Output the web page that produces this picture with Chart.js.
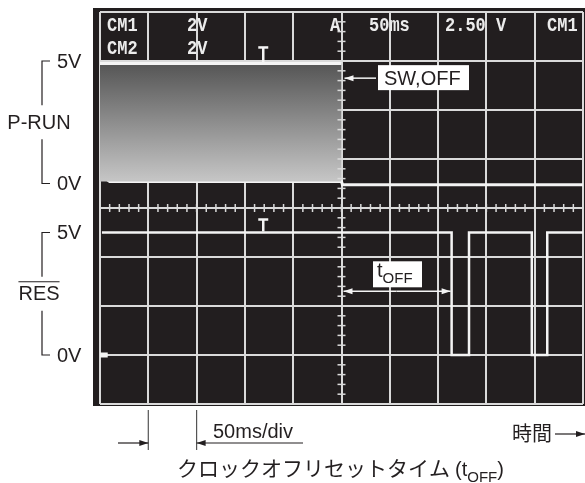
<!DOCTYPE html>
<html><head><meta charset="utf-8">
<script src="https://cdn.jsdelivr.net/npm/chart.js@4/dist/chart.umd.min.js"></script>
<style>html,body{margin:0;padding:0;background:#fff}canvas{display:block}</style>
</head><body>
<canvas id="scope" width="585" height="483"></canvas>
<script>
// Time base: 50 ms per division, 10 divisions across
const timeDivMs = 50;
const timeDivs = 10;
// Vertical: 2 V per division, 8 divisions
const voltsPerDiv = 2;
const voltDivs = 8;

// Channel ground positions, in divisions above the bottom edge
const ch1GroundDiv = 4.5;
const ch2GroundDiv = 1;

// P-RUN (CM1)
const pRunHighTime = [0, 250];
const pRunHighVolts = [4.9, 4.9];
const pRunLowTime = [0, 6, 10, 250, 251, 500];
const pRunLowVolts = [0.2, 0.2, 0.08, 0.08, -0.05, -0.05];

// RES (CM2)
const resTime = [2, 364, 364, 382, 382, 447, 447, 463, 463, 500];
const resVolts = [5, 5, 0, 0, 5, 5, 0, 0, 5, 5];
const resStartTime = [0, 8];
const resStartVolts = [0, 0];

const triggerTime = 169;
const switchOffTime = 250;
const resetTime = 364;
const levelLabels = ['5V', '0V'];
const levelVolts = [5, 0];

const ch1Base = ch1GroundDiv * voltsPerDiv;
const ch2Base = ch2GroundDiv * voltsPerDiv;
const toPoints = (times, volts, base) => times.map((t, i) => ({ x: t, y: volts[i] + base }));

const trace = '#f4f4f4';
const gridColor = '#dadada';
const ink = '#231f20';
const sans = '"Liberation Sans", Arial, sans-serif';
const mono = '"Liberation Mono", "DejaVu Sans Mono", monospace';
const cjk = '"Noto Sans CJK JP", sans-serif';

function arrow(ctx, x1, y1, x2, y2, len, half) {
  ctx.beginPath(); ctx.moveTo(x1, y1); ctx.lineTo(x2, y2); ctx.stroke();
  const a = Math.atan2(y2 - y1, x2 - x1);
  ctx.beginPath();
  ctx.moveTo(x2, y2);
  ctx.lineTo(x2 - len * Math.cos(a) + half * Math.sin(a), y2 - len * Math.sin(a) - half * Math.cos(a));
  ctx.lineTo(x2 - len * Math.cos(a) - half * Math.sin(a), y2 - len * Math.sin(a) + half * Math.cos(a));
  ctx.closePath(); ctx.fill();
}

// Text with a subscript part, left aligned at x
function subText(ctx, x, y, main, sub, after, size, subSize, font) {
  ctx.textAlign = 'left';
  ctx.font = size + 'px ' + font;
  ctx.fillText(main, x, y);
  let cx = x + ctx.measureText(main).width;
  ctx.font = subSize + 'px ' + font;
  ctx.fillText(sub, cx, y + size * 0.28);
  cx += ctx.measureText(sub).width;
  if (after) { ctx.font = size + 'px ' + font; ctx.fillText(after, cx, y); cx += ctx.measureText(after).width; }
  return cx;
}

// Tall condensed readout text of the scope screen
function readout(ctx, text, x, y) {
  ctx.save();
  ctx.translate(x, y);
  ctx.scale(1, 1.22);
  ctx.fillText(text, 0, 0);
  ctx.restore();
}

const backdrop = {
  id: 'backdrop',
  beforeDraw(chart) {
    const ctx = chart.ctx;
    ctx.save();
    ctx.fillStyle = '#ffffff';
    ctx.fillRect(0, 0, chart.width, chart.height);
    ctx.fillStyle = '#221e1f';
    ctx.fillRect(93, 8, chart.width - 93, 398);
    ctx.restore();
  }
};

const overlay = {
  id: 'overlay',
  afterDraw(chart) {
    const ctx = chart.ctx, xs = chart.scales.x, ys = chart.scales.y;
    const area = chart.chartArea;
    ctx.save();

    // Sub-division marks on the centre axes
    ctx.strokeStyle = gridColor; ctx.lineWidth = 1.5;
    const xc = xs.getPixelForValue(switchOffTime);
    const yc = ys.getPixelForValue(voltDivs * voltsPerDiv / 2);
    for (let v = 0; v <= voltDivs * voltsPerDiv + 1e-6; v += voltsPerDiv / 5) {
      const py = ys.getPixelForValue(v);
      ctx.beginPath(); ctx.moveTo(xc - 4, py); ctx.lineTo(xc + 4, py); ctx.stroke();
    }
    for (let t = 0; t <= timeDivs * timeDivMs + 1e-6; t += timeDivMs / 5) {
      const px = xs.getPixelForValue(t);
      ctx.beginPath(); ctx.moveTo(px, yc - 4); ctx.lineTo(px, yc + 4); ctx.stroke();
    }

    // Trigger markers
    ctx.strokeStyle = trace; ctx.lineWidth = 2.5;
    const tx = xs.getPixelForValue(triggerTime);
    [[ch1Base + pRunHighVolts[0], 16], [ch2Base + resVolts[0], 13]].forEach(([v, h]) => {
      const py = ys.getPixelForValue(v);
      ctx.beginPath(); ctx.moveTo(tx - 5, py - h); ctx.lineTo(tx + 5, py - h); ctx.stroke();
      ctx.beginPath(); ctx.moveTo(tx, py - h); ctx.lineTo(tx, py - 1); ctx.stroke();
    });

    // Scope readout
    ctx.fillStyle = '#ececec';
    ctx.font = 'bold 17px ' + mono;
    ctx.textAlign = 'left'; ctx.textBaseline = 'alphabetic';
    readout(ctx, 'CM1', 107, 31);
    readout(ctx, '2V', 187, 31);
    readout(ctx, 'CM2', 107, 54);
    readout(ctx, '2V', 187, 54);
    readout(ctx, 'A', 330, 31);
    readout(ctx, '50ms', 369, 31);
    readout(ctx, '2.50 V', 445, 31);
    readout(ctx, 'CM1', 547, 31);

    // SW,OFF callout
    const swY = ys.getPixelForValue(ch1Base + 4.3);
    ctx.font = '20px ' + sans;
    ctx.fillStyle = '#ffffff';
    ctx.fillRect(378, swY - 13, 91, 25);
    ctx.fillStyle = ink; ctx.textBaseline = 'middle';
    ctx.fillText('SW,OFF', 384, swY + 1);
    ctx.fillStyle = trace; ctx.strokeStyle = trace; ctx.lineWidth = 1.5;
    arrow(ctx, 376, swY, xc + 3, swY, 9, 3);

    // tOFF callout
    const tY = ys.getPixelForValue(ch2Base + 2.6);
    const rx = xs.getPixelForValue(resetTime);
    ctx.fillStyle = '#ffffff';
    ctx.fillRect(373, tY - 30, 49, 26);
    ctx.fillStyle = ink; ctx.textBaseline = 'alphabetic';
    subText(ctx, 377, tY - 14, 't', 'OFF', '', 20, 15, sans);
    ctx.fillStyle = trace; ctx.strokeStyle = trace; ctx.lineWidth = 1.5;
    const mid = (xc + rx) / 2;
    arrow(ctx, mid, tY, xc + 2, tY, 9, 3);
    arrow(ctx, mid, tY, rx - 1, tY, 9, 3);

    // Channel level labels with brackets
    ctx.fillStyle = ink; ctx.strokeStyle = ink; ctx.lineWidth = 1.2;
    ctx.font = '20px ' + sans; ctx.textBaseline = 'middle';
    [[ch1Base, 'P-RUN', false], [ch2Base, 'RES', true]].forEach(([base, name, bar]) => {
      const yTop = ys.getPixelForValue(base + levelVolts[0]);
      const yBot = ys.getPixelForValue(base + levelVolts[1]);
      ctx.textAlign = 'left';
      ctx.fillText(levelLabels[0], 57, yTop + 1);
      ctx.fillText(levelLabels[1], 57, yBot + 1);
      const ym = (yTop + yBot) / 2;
      ctx.textAlign = 'center';
      ctx.fillText(name, 39, ym + 1);
      if (bar) {
        const w = ctx.measureText(name).width;
        ctx.beginPath(); ctx.moveTo(39 - w / 2, ym - 12); ctx.lineTo(39 + w / 2, ym - 12); ctx.stroke();
      }
      ctx.beginPath();
      ctx.moveTo(50, yTop); ctx.lineTo(42, yTop); ctx.lineTo(42, ym - 17);
      ctx.moveTo(42, ym + 17); ctx.lineTo(42, yBot); ctx.lineTo(50, yBot);
      ctx.stroke();
    });

    // Division scale note below the screen
    const d1 = xs.getPixelForValue(timeDivMs), d2 = xs.getPixelForValue(2 * timeDivMs);
    const bottom = area.bottom;
    ctx.strokeStyle = '#555'; ctx.lineWidth = 1.2;
    ctx.beginPath();
    ctx.moveTo(d1, bottom + 6); ctx.lineTo(d1, bottom + 46);
    ctx.moveTo(d2, bottom + 6); ctx.lineTo(d2, bottom + 46);
    ctx.stroke();
    ctx.strokeStyle = ink; ctx.fillStyle = ink;
    arrow(ctx, 118, bottom + 39, d1, bottom + 39, 9, 3);
    arrow(ctx, 303, bottom + 39, d2, bottom + 39, 9, 3);
    ctx.textAlign = 'left'; ctx.textBaseline = 'alphabetic';
    ctx.font = '20px ' + sans;
    ctx.fillText('50ms/div', 213, bottom + 34);

    // Time direction
    ctx.font = '20px ' + cjk;
    ctx.fillText('時間', 512, bottom + 37);
    arrow(ctx, 555, bottom + 30, 585, bottom + 30, 9, 3);

    // Caption
    ctx.font = '21px ' + cjk;
    const cap = 'クロックオフリセットタイム';
    ctx.fillText(cap, 177, bottom + 72);
    const cx = 177 + ctx.measureText(cap).width + 5;
    subText(ctx, cx, bottom + 72, '(t', 'OFF', ')', 20, 15, sans);

    ctx.restore();
  }
};

const scaleBase = {
  type: 'linear',
  display: true,
  z: 1,
  ticks: { display: false },
  grid: { color: gridColor, lineWidth: 2, drawTicks: false, tickLength: 0 },
  border: { display: false }
};

new Chart(document.getElementById('scope'), {
  type: 'line',
  data: {
    datasets: [
      {
        data: toPoints(pRunHighTime, pRunHighVolts, ch1Base),
        borderColor: trace, borderWidth: 3, pointRadius: 0,
        fill: { value: ch1Base + pRunLowVolts[2] },
        backgroundColor(c) {
          const chart = c.chart;
          if (!chart.chartArea) return 'rgba(0,0,0,0)';
          const y = chart.scales.y;
          const g = chart.ctx.createLinearGradient(0, y.getPixelForValue(ch1Base + pRunHighVolts[0]), 0, y.getPixelForValue(ch1Base));
          g.addColorStop(0, '#555555');
          g.addColorStop(1, '#c8c8c8');
          return g;
        }
      },
      {
        data: toPoints(pRunLowTime, pRunLowVolts, ch1Base),
        borderColor: trace, borderWidth: 3, pointRadius: 0, fill: false
      },
      {
        data: toPoints(resTime, resVolts, ch2Base),
        borderColor: trace, borderWidth: 2.5, pointRadius: 0, fill: false
      },
      {
        data: toPoints(resStartTime, resStartVolts, ch2Base),
        borderColor: trace, borderWidth: 5, pointRadius: 0, fill: false
      }
    ]
  },
  options: {
    responsive: false,
    animation: false,
    devicePixelRatio: 1,
    events: [],
    layout: { padding: { left: 100, right: 2, top: 12, bottom: 79 } },
    plugins: { legend: { display: false }, tooltip: { enabled: false } },
    elements: { line: { tension: 0 } },
    scales: {
      x: Object.assign({}, scaleBase, {
        min: 0, max: timeDivs * timeDivMs,
        ticks: { display: false, stepSize: timeDivMs },
        afterFit(s) { s.height = 0; }
      }),
      y: Object.assign({}, scaleBase, {
        min: 0, max: voltDivs * voltsPerDiv,
        ticks: { display: false, stepSize: voltsPerDiv },
        afterFit(s) { s.width = 0; }
      })
    }
  },
  plugins: [backdrop, overlay]
});
</script>
</body></html>
